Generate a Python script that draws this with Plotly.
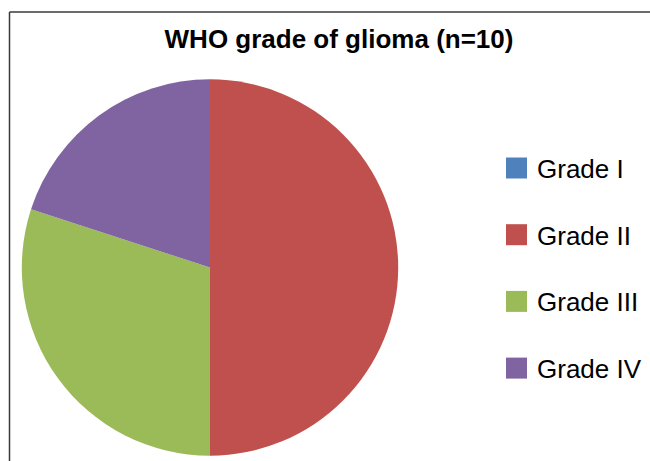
import plotly.graph_objects as go

labels = ["Grade I", "Grade II", "Grade III", "Grade IV"]
values = [0, 5, 3, 2]
colors = ["#4F81BD", "#C0504D", "#9BBB59", "#8064A2"]
title_text = "WHO grade of glioma (n=10)"

W, H = 650, 461
FONT = "Arial, Liberation Sans, sans-serif"


def px(x):
    return x / W


def py(y):
    return (H - y) / H


fig = go.Figure()
fig.add_trace(go.Pie(
    labels=labels, values=values, sort=False, direction="clockwise", rotation=0,
    marker=dict(colors=colors, line=dict(width=0)),
    textinfo="none", hoverinfo="label+value+percent", showlegend=False,
    domain=dict(x=[px(21.7), px(398.3)], y=[py(455.7), py(79.3)]),
))

# legend built from the label/colour arrays
shapes = []
annotations = []
leg_top = 168.0
leg_step = 66.7
sq = 21
for i, (lab, col) in enumerate(zip(labels, colors)):
    cy = leg_top + i * leg_step
    shapes.append(dict(type="rect", xref="paper", yref="paper",
                       x0=px(506), x1=px(506 + sq),
                       y0=py(cy + sq / 2), y1=py(cy - sq / 2),
                       fillcolor=col, line=dict(width=0)))
    annotations.append(dict(text=lab, xref="paper", yref="paper",
                            x=px(535), y=py(cy + 1), xanchor="left", yanchor="middle",
                            showarrow=False, font=dict(family=FONT, size=26, color="#000000")))

# chart frame (top and left edges only visible)
frame = dict(color="#3a3a3a", width=1.5)
shapes.append(dict(type="line", xref="paper", yref="paper",
                   x0=px(9.5), x1=1.0, y0=py(12), y1=py(12), line=frame, layer="below"))
shapes.append(dict(type="line", xref="paper", yref="paper",
                   x0=px(9.5), x1=px(9.5), y0=0.0, y1=py(12), line=frame, layer="below"))

fig.update_layout(
    width=W, height=H,
    margin=dict(l=0, r=0, t=0, b=0),
    paper_bgcolor="white", plot_bgcolor="white",
    title=dict(text="<b>" + title_text + "</b>", x=px(339), xanchor="center",
               y=py(39), yanchor="middle", yref="paper",
               font=dict(family=FONT, size=26, color="#000000")),
    shapes=shapes, annotations=annotations,
)

fig.write_html(
    "out.html",
    config={"displayModeBar": False},
    post_script="document.body.style.margin='0';document.documentElement.style.overflow='hidden';document.body.style.overflow='hidden';",
)
